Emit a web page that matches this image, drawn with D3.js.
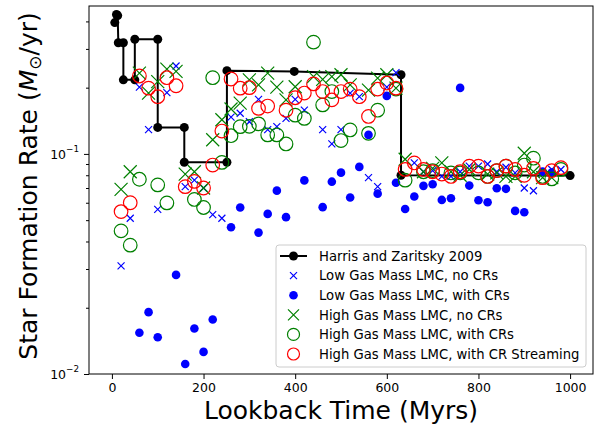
<!DOCTYPE html>
<html>
<head>
<meta charset="utf-8">
<script src="https://cdn.jsdelivr.net/npm/d3@7"></script>
<style>
body { margin: 0; background: #fff; }
text { font-family: "DejaVu Sans", sans-serif; fill: #000; }
</style>
</head>
<body>
<div id="chart"></div>
<script>
// Harris & Zaritsky 2009 (time in Myr, SFR in Msun/yr)
const harris = [[6.3,0.395],[10,0.43],[12.6,0.425],[14,0.32],[25,0.32],[25,0.217],[50,0.217],[50,0.332],
  [100,0.332],[100,0.132],[158,0.132],[158,0.0917],[251,0.0917],[251,0.239],[398,0.237],[631,0.229],
  [631,0.080],[1000,0.0797]];

const lowGasNoCRs = [[20,0.031],[40,0.051],[60,0.201],[80,0.129],[100,0.056],[120,0.19],[140,0.251],
  [160,0.071],[180,0.076],[200,0.070],[220,0.053],[240,0.051],[260,0.147],[280,0.153],[300,0.14],
  [320,0.177],[340,0.129],[360,0.133],[380,0.145],[400,0.177],[420,0.158],[460,0.129],[480,0.111],
  [500,0.129],[520,0.189],[540,0.182],[560,0.078],[580,0.071],[600,0.201],[620,0.234],[660,0.091],
  [680,0.083],[700,0.084],[720,0.079],[740,0.079],[760,0.083],[780,0.088],[800,0.088],[820,0.090],
  [840,0.083],[860,0.087],[880,0.082],[900,0.070],[920,0.068],[940,0.082],[960,0.085],[980,0.085]];

const lowGasWithCRs = [[60,0.0154],[80,0.0191],[100,0.0147],[140,0.0282],[160,0.0111],[180,0.0161],
  [200,0.0126],[220,0.0177],[260,0.0464],[280,0.0571],[320,0.0439],[340,0.0534],[360,0.0681],
  [380,0.0516],[420,0.0758],[460,0.0573],[480,0.0748],[500,0.0822],[520,0.0634],[540,0.0873],
  [560,0.122],[580,0.066],[600,0.1835],[620,0.074],[640,0.0562],[660,0.064],[680,0.0716],[700,0.0728],
  [720,0.0618],[740,0.0629],[760,0.1995],[780,0.0718],[800,0.0616],[820,0.0603],[840,0.0698],
  [860,0.0694],[880,0.0551],[900,0.0543],[940,0.0831],[960,0.0822]];

const highGasNoCRs = [[20,0.069],[40,0.083],[60,0.233],[80,0.189],[100,0.213],[120,0.243],[140,0.237],
  [160,0.081],[180,0.083],[200,0.070],[220,0.116],[240,0.143],[260,0.16],[280,0.17],[300,0.217],
  [320,0.206],[340,0.233],[360,0.201],[380,0.176],[400,0.202],[440,0.2245],[460,0.218],[480,0.2245],
  [500,0.229],[520,0.206],[560,0.195],[580,0.221],[600,0.229],[620,0.199],[640,0.0946],[680,0.083],
  [700,0.086],[720,0.091],[740,0.083],[760,0.080],[780,0.085],[820,0.081],[840,0.082],[860,0.079],
  [880,0.079],[900,0.1007],[920,0.083],[940,0.078],[960,0.078]];

const highGasWithCRs = [[20,0.0447],[40,0.0385],[60,0.0767],[100,0.0723],[120,0.0599],[180,0.0621],
  [200,0.0571],[220,0.222],[240,0.0915],[260,0.121],[280,0.133],[300,0.1334],[320,0.137],[340,0.122],
  [360,0.122],[380,0.111],[400,0.150],[420,0.145],[440,0.322],[460,0.167],[480,0.192],[500,0.115],
  [520,0.1285],[560,0.124],[580,0.158],[620,0.197],[640,0.076],[680,0.083],[700,0.084],[740,0.082],
  [760,0.082],[800,0.082],[820,0.079],[840,0.084],[860,0.088],[880,0.082],[900,0.089],[920,0.0956],
  [940,0.079],[960,0.077],[980,0.085]];

const highGasStreaming = [[20,0.0547],[40,0.060],[60,0.226],[80,0.199],[100,0.182],[120,0.222],
  [140,0.204],[160,0.071],[180,0.075],[200,0.070],[220,0.089],[240,0.127],[260,0.219],[280,0.199],
  [300,0.200],[320,0.161],[340,0.165],[380,0.158],[400,0.180],[420,0.189],[440,0.208],[460,0.192],
  [480,0.176],[500,0.192],[520,0.197],[540,0.182],[560,0.148],[580,0.197],[600,0.21],[620,0.199],
  [640,0.085],[660,0.091],[680,0.085],[700,0.083],[720,0.081],[740,0.079],[760,0.083],[780,0.088],
  [800,0.088],[820,0.079],[840,0.084],[860,0.088],[880,0.085],[900,0.080],[920,0.086],[940,0.078],
  [960,0.084],[980,0.0866]];

const xTicks = [0, 200, 400, 600, 800, 1000];
const yMajor = [0.01, 0.1];
const yMinor = [0.02,0.03,0.04,0.05,0.06,0.07,0.08,0.09,0.2,0.3,0.4];
const legendLabels = ["Harris and Zaritsky 2009", "Low Gas Mass LMC, no CRs", "Low Gas Mass LMC, with CRs",
  "High Gas Mass LMC, no CRs", "High Gas Mass LMC, with CRs", "High Gas Mass LMC, with CR Streaming"];

const W = 600, H = 425;
const margin = { top: 6, right: 7, bottom: 51, left: 89 };

const svg = d3.select("#chart").append("svg")
    .attr("width", W)
    .attr("height", H);

// SCALES
const x = d3.scaleLinear().domain([-50, 1050]).range([margin.left, W - margin.right]);
const y = d3.scaleLog().domain([0.01, 0.47]).range([H - margin.bottom, margin.top]);

svg.append("clipPath").attr("id", "clip").append("rect")
    .attr("x", margin.left).attr("y", margin.top)
    .attr("width", W - margin.left - margin.right)
    .attr("height", H - margin.top - margin.bottom);

const plot = svg.append("g").attr("clip-path", "url(#clip)");

// marker helpers
function cross(s) {
    return `M${-s},${-s}L${s},${s}M${-s},${s}L${s},${-s}`;
}
function drawCross(g, data, s, color) {
    g.selectAll(null).data(data).enter().append("path")
        .attr("transform", d => `translate(${x(d[0])},${y(d[1])})`)
        .attr("d", cross(s))
        .attr("stroke", color).attr("stroke-width", 1.2).attr("fill", "none");
}
function drawCircle(g, data, r, color, filled) {
    g.selectAll(null).data(data).enter().append("circle")
        .attr("cx", d => x(d[0])).attr("cy", d => y(d[1]))
        .attr("r", r)
        .attr("fill", filled ? color : "none")
        .attr("stroke", filled ? "none" : color)
        .attr("stroke-width", 1.2);
}

// Harris line
const line = d3.line().x(d => x(d[0])).y(d => y(d[1]));
plot.append("path").datum(harris)
    .attr("d", line).attr("fill", "none").attr("stroke", "#000").attr("stroke-width", 2);
drawCircle(plot, harris, 4.5, "#000", true);

drawCross(plot, lowGasNoCRs, 3.5, "#0000ff");
drawCircle(plot, lowGasWithCRs, 4.3, "#0000ff", true);
drawCross(plot, highGasNoCRs, 6.5, "#008000");
drawCircle(plot, highGasWithCRs, 6.8, "#008000", false);
drawCircle(plot, highGasStreaming, 6.8, "#ff0000", false);

// AXES
const xAxis = svg.append("g")
    .attr("transform", `translate(0,${H - margin.bottom})`)
    .call(d3.axisBottom(x).tickValues(xTicks).tickSize(5).tickPadding(4).tickFormat(d3.format("d")));
xAxis.select(".domain").remove();
xAxis.selectAll("text").attr("font-size", 12.5).attr("font-family", "DejaVu Sans");

const yAxis = svg.append("g")
    .attr("transform", `translate(${margin.left},0)`)
    .call(d3.axisLeft(y).tickValues(yMajor).tickSize(5).tickPadding(5).tickFormat(""));
yAxis.select(".domain").remove();
yAxis.selectAll(".tick").each(function(d) {
    const t = d3.select(this).select("text")
        .attr("font-size", 12.5).attr("font-family", "DejaVu Sans").attr("dy", "0.35em");
    t.append("tspan").text("10");
    t.append("tspan").attr("font-size", 8.8).attr("dy", "-0.75em").text("\u2212" + Math.round(-Math.log10(d)));
});
svg.append("g")
    .attr("transform", `translate(${margin.left},0)`)
    .call(d3.axisLeft(y).tickValues(yMinor).tickSize(3).tickFormat(""))
    .select(".domain").remove();

// frame
svg.append("rect")
    .attr("x", margin.left).attr("y", margin.top)
    .attr("width", W - margin.left - margin.right)
    .attr("height", H - margin.top - margin.bottom)
    .attr("fill", "none").attr("stroke", "#000").attr("stroke-width", 1);

// axis labels
svg.append("text")
    .attr("x", (margin.left + W - margin.right) / 2).attr("y", 419)
    .attr("text-anchor", "middle").attr("font-size", 25)
    .text("Lookback Time (Myrs)");

const yl = svg.append("text")
    .attr("transform", "translate(37,186) rotate(-90)")
    .attr("text-anchor", "middle").attr("font-size", 25);
yl.append("tspan").text("Star Formation Rate (");
yl.append("tspan").attr("font-style", "italic").text("M");
yl.append("tspan").attr("font-size", 17).attr("dy", 4).text("\u2299");
yl.append("tspan").attr("dy", -4).text("/yr)");

// LEGEND
const lg = svg.append("g").attr("transform", "translate(276,245)");
lg.append("rect").attr("width", 310).attr("height", 122).attr("rx", 3)
    .attr("fill", "#fff").attr("fill-opacity", 0.8).attr("stroke", "#cccccc");
const rowY = i => 11 + i * 19.6;
lg.append("line").attr("x1", 4).attr("x2", 31).attr("y1", rowY(0)).attr("y2", rowY(0))
    .attr("stroke", "#000").attr("stroke-width", 2);
lg.append("circle").attr("cx", 17.5).attr("cy", rowY(0)).attr("r", 4.5).attr("fill", "#000");
lg.append("path").attr("transform", `translate(17.5,${rowY(1)})`).attr("d", cross(3.5))
    .attr("stroke", "#0000ff").attr("stroke-width", 1.2);
lg.append("circle").attr("cx", 17.5).attr("cy", rowY(2)).attr("r", 4.3).attr("fill", "#0000ff");
lg.append("path").attr("transform", `translate(17.5,${rowY(3)})`).attr("d", cross(5.5))
    .attr("stroke", "#008000").attr("stroke-width", 1.2);
lg.append("circle").attr("cx", 17.5).attr("cy", rowY(4)).attr("r", 6).attr("fill", "none")
    .attr("stroke", "#008000").attr("stroke-width", 1.2);
lg.append("circle").attr("cx", 17.5).attr("cy", rowY(5)).attr("r", 6).attr("fill", "none")
    .attr("stroke", "#ff0000").attr("stroke-width", 1.2);
lg.selectAll(".lab").data(legendLabels).enter().append("text")
    .attr("x", 43).attr("y", (d, i) => rowY(i) + 4.7)
    .attr("font-size", 13.2)
    .text(d => d);
</script>
</body>
</html>
